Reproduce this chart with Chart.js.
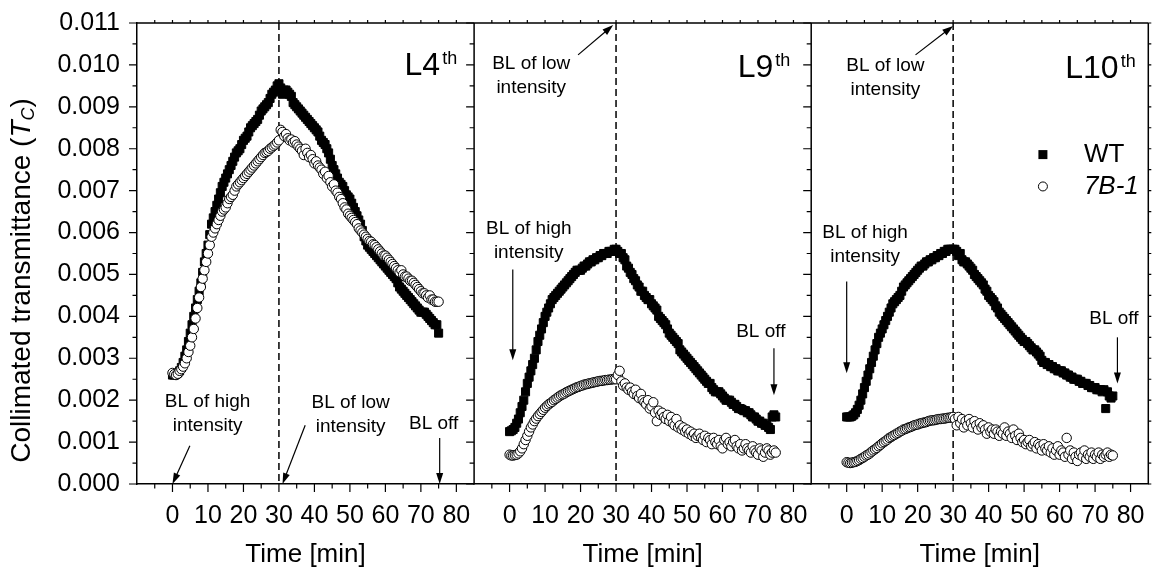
<!DOCTYPE html>
<html>
<head>
<meta charset="utf-8">
<script src="https://cdn.jsdelivr.net/npm/chart.js@4.4.1/dist/chart.umd.min.js"></script>
<style>
  html, body { margin: 0; background: #fff; }
  #wrap { width: 1155px; height: 570px; }
</style>
</head>
<body>
<div id="wrap"><canvas id="chart"></canvas></div>
<script>
// time in minutes, one reading every half minute
const times = [
  0, 0.5, 1, 1.5, 2, 2.5, 3, 3.5, 4, 4.5,
  5, 5.5, 6, 6.5, 7, 7.5, 8, 8.5, 9, 9.5,
  10, 10.5, 11, 11.5, 12, 12.5, 13, 13.5, 14, 14.5,
  15, 15.5, 16, 16.5, 17, 17.5, 18, 18.5, 19, 19.5,
  20, 20.5, 21, 21.5, 22, 22.5, 23, 23.5, 24, 24.5,
  25, 25.5, 26, 26.5, 27, 27.5, 28, 28.5, 29, 29.5,
  30, 30.5, 31, 31.5, 32, 32.5, 33, 33.5, 34, 34.5,
  35, 35.5, 36, 36.5, 37, 37.5, 38, 38.5, 39, 39.5,
  40, 40.5, 41, 41.5, 42, 42.5, 43, 43.5, 44, 44.5,
  45, 45.5, 46, 46.5, 47, 47.5, 48, 48.5, 49, 49.5,
  50, 50.5, 51, 51.5, 52, 52.5, 53, 53.5, 54, 54.5,
  55, 55.5, 56, 56.5, 57, 57.5, 58, 58.5, 59, 59.5,
  60, 60.5, 61, 61.5, 62, 62.5, 63, 63.5, 64, 64.5,
  65, 65.5, 66, 66.5, 67, 67.5, 68, 68.5, 69, 69.5,
  70, 70.5, 71, 71.5, 72, 72.5, 73, 73.5, 74, 74.5,
  75
];

// L4th leaf
const wtL4 = [
  0.00260, 0.00260, 0.00262, 0.00265, 0.00270, 0.00278, 0.00290, 0.00305, 0.00320, 0.00340,
  0.00360, 0.00380, 0.00400, 0.00420, 0.00440, 0.00460, 0.00480, 0.00505, 0.00530, 0.00550,
  0.00570, 0.00595, 0.00620, 0.00635, 0.00650, 0.00665, 0.00680, 0.00695, 0.00710, 0.00720,
  0.00730, 0.00740, 0.00750, 0.00760, 0.00770, 0.00780, 0.00790, 0.00795, 0.00800, 0.00810,
  0.00820, 0.00825, 0.00830, 0.00840, 0.00850, 0.00855, 0.00860, 0.00865, 0.00870, 0.00880,
  0.00890, 0.00895, 0.00900, 0.00905, 0.00910, 0.00920, 0.00930, 0.00935, 0.00940, 0.00950,
  0.00955, 0.00945, 0.00930, 0.00940, 0.00940, 0.00935, 0.00930, 0.00925, 0.00910, 0.00905,
  0.00900, 0.00895, 0.00890, 0.00885, 0.00880, 0.00875, 0.00870, 0.00865, 0.00860, 0.00855,
  0.00850, 0.00845, 0.00840, 0.00830, 0.00820, 0.00815, 0.00810, 0.00800, 0.00790, 0.00775,
  0.00760, 0.00750, 0.00740, 0.00730, 0.00720, 0.00715, 0.00710, 0.00700, 0.00690, 0.00685,
  0.00680, 0.00670, 0.00660, 0.00650, 0.00640, 0.00630, 0.00620, 0.00605, 0.00590, 0.00580,
  0.00570, 0.00565, 0.00560, 0.00555, 0.00550, 0.00545, 0.00540, 0.00535, 0.00530, 0.00525,
  0.00520, 0.00515, 0.00510, 0.00505, 0.00500, 0.00495, 0.00490, 0.00480, 0.00470, 0.00465,
  0.00460, 0.00455, 0.00450, 0.00445, 0.00440, 0.00435, 0.00430, 0.00425, 0.00420, 0.00415,
  0.00410, 0.00410, 0.00410, 0.00405, 0.00400, 0.00395, 0.00390, 0.00385, 0.00380, 0.00380,
  0.00360
];
const b71L4 = [
  0.00265, 0.00262, 0.00260, 0.00263, 0.00270, 0.00274, 0.00280, 0.00288, 0.00300, 0.00315,
  0.00330, 0.00350, 0.00370, 0.00395, 0.00420, 0.00445, 0.00470, 0.00490, 0.00510, 0.00530,
  0.00550, 0.00570, 0.00590, 0.00600, 0.00610, 0.00620, 0.00630, 0.00640, 0.00650, 0.00655,
  0.00660, 0.00670, 0.00680, 0.00685, 0.00690, 0.00700, 0.00710, 0.00715, 0.00720, 0.00725,
  0.00730, 0.00735, 0.00740, 0.00745, 0.00750, 0.00755, 0.00760, 0.00765, 0.00770, 0.00775,
  0.00780, 0.00785, 0.00790, 0.00792, 0.00795, 0.00800, 0.00803, 0.00807, 0.00810, 0.00815,
  0.00820, 0.00845, 0.00840, 0.00830, 0.00835, 0.00825, 0.00820, 0.00822, 0.00815, 0.00818,
  0.00810, 0.00805, 0.00800, 0.00795, 0.00785, 0.00800, 0.00790, 0.00780, 0.00785, 0.00775,
  0.00765, 0.00770, 0.00760, 0.00755, 0.00750, 0.00740, 0.00745, 0.00730, 0.00735, 0.00720,
  0.00710, 0.00715, 0.00700, 0.00695, 0.00685, 0.00680, 0.00670, 0.00660, 0.00655, 0.00645,
  0.00640, 0.00635, 0.00630, 0.00625, 0.00620, 0.00610, 0.00605, 0.00600, 0.00595, 0.00590,
  0.00585, 0.00580, 0.00578, 0.00572, 0.00570, 0.00565, 0.00560, 0.00555, 0.00550, 0.00545,
  0.00545, 0.00540, 0.00535, 0.00530, 0.00525, 0.00520, 0.00515, 0.00510, 0.00505, 0.00510,
  0.00500, 0.00495, 0.00495, 0.00490, 0.00485, 0.00485, 0.00480, 0.00475, 0.00470, 0.00465,
  0.00460, 0.00455, 0.00455, 0.00450, 0.00445, 0.00450, 0.00440, 0.00440, 0.00435, 0.00435,
  0.00435
];

// L9th leaf
const wtL9 = [
  0.00125, 0.00127, 0.00130, 0.00135, 0.00145, 0.00155, 0.00170, 0.00185, 0.00200, 0.00220,
  0.00240, 0.00255, 0.00270, 0.00285, 0.00300, 0.00320, 0.00340, 0.00355, 0.00370, 0.00385,
  0.00400, 0.00410, 0.00420, 0.00430, 0.00440, 0.00445, 0.00450, 0.00455, 0.00460, 0.00465,
  0.00470, 0.00475, 0.00480, 0.00485, 0.00490, 0.00495, 0.00500, 0.00505, 0.00510, 0.00510,
  0.00510, 0.00515, 0.00520, 0.00520, 0.00525, 0.00530, 0.00530, 0.00535, 0.00535, 0.00540,
  0.00540, 0.00545, 0.00545, 0.00550, 0.00550, 0.00550, 0.00555, 0.00555, 0.00555, 0.00560,
  0.00560, 0.00555, 0.00550, 0.00550, 0.00540, 0.00535, 0.00520, 0.00515, 0.00505, 0.00500,
  0.00490, 0.00485, 0.00475, 0.00470, 0.00460, 0.00460, 0.00450, 0.00445, 0.00440, 0.00440,
  0.00430, 0.00425, 0.00420, 0.00415, 0.00400, 0.00395, 0.00390, 0.00385, 0.00380, 0.00370,
  0.00360, 0.00355, 0.00350, 0.00345, 0.00340, 0.00335, 0.00320, 0.00315, 0.00310, 0.00305,
  0.00300, 0.00295, 0.00290, 0.00285, 0.00280, 0.00275, 0.00270, 0.00265, 0.00260, 0.00255,
  0.00250, 0.00245, 0.00240, 0.00240, 0.00230, 0.00225, 0.00220, 0.00220, 0.00220, 0.00215,
  0.00210, 0.00205, 0.00200, 0.00200, 0.00200, 0.00195, 0.00190, 0.00190, 0.00185, 0.00180,
  0.00180, 0.00178, 0.00175, 0.00175, 0.00170, 0.00170, 0.00165, 0.00160, 0.00160, 0.00155,
  0.00150, 0.00150, 0.00145, 0.00145, 0.00140, 0.00140, 0.00135, 0.00130, 0.00160, 0.00165,
  0.00160
];
const b71L9 = [
  0.00070, 0.00068, 0.00068, 0.00069, 0.00070, 0.00073, 0.00078, 0.00085, 0.00095, 0.00105,
  0.00115, 0.00125, 0.00135, 0.00142, 0.00150, 0.00156, 0.00162, 0.00167, 0.00172, 0.00177,
  0.00182, 0.00186, 0.00190, 0.00193, 0.00196, 0.00200, 0.00203, 0.00206, 0.00209, 0.00212,
  0.00214, 0.00216, 0.00219, 0.00221, 0.00223, 0.00225, 0.00227, 0.00229, 0.00231, 0.00232,
  0.00234, 0.00235, 0.00237, 0.00238, 0.00239, 0.00240, 0.00241, 0.00242, 0.00243, 0.00244,
  0.00245, 0.00246, 0.00246, 0.00247, 0.00248, 0.00248, 0.00249, 0.00249, 0.00250, 0.00250,
  0.00250, 0.00260, 0.00270, 0.00245, 0.00235, 0.00240, 0.00230, 0.00225, 0.00230, 0.00220,
  0.00215, 0.00225, 0.00210, 0.00205, 0.00215, 0.00200, 0.00195, 0.00190, 0.00200, 0.00180,
  0.00185, 0.00195, 0.00170, 0.00150, 0.00175, 0.00165, 0.00170, 0.00160, 0.00155, 0.00165,
  0.00150, 0.00160, 0.00145, 0.00140, 0.00155, 0.00135, 0.00140, 0.00130, 0.00135, 0.00125,
  0.00130, 0.00120, 0.00125, 0.00115, 0.00120, 0.00110, 0.00115, 0.00120, 0.00110, 0.00105,
  0.00115, 0.00100, 0.00110, 0.00105, 0.00095, 0.00110, 0.00100, 0.00095, 0.00105, 0.00090,
  0.00085, 0.00105, 0.00110, 0.00095, 0.00100, 0.00090, 0.00100, 0.00105, 0.00090, 0.00085,
  0.00095, 0.00080, 0.00085, 0.00095, 0.00085, 0.00080, 0.00075, 0.00090, 0.00080, 0.00075,
  0.00070, 0.00085, 0.00080, 0.00065, 0.00075, 0.00085, 0.00080, 0.00070, 0.00075, 0.00080,
  0.00075
];

// L10th leaf
const wtL10 = [
  0.00160, 0.00160, 0.00160, 0.00162, 0.00165, 0.00170, 0.00178, 0.00188, 0.00200, 0.00215,
  0.00230, 0.00245, 0.00260, 0.00275, 0.00290, 0.00305, 0.00320, 0.00335, 0.00350, 0.00360,
  0.00370, 0.00380, 0.00390, 0.00400, 0.00410, 0.00420, 0.00430, 0.00435, 0.00440, 0.00445,
  0.00450, 0.00460, 0.00470, 0.00475, 0.00480, 0.00485, 0.00490, 0.00495, 0.00500, 0.00505,
  0.00510, 0.00515, 0.00520, 0.00520, 0.00525, 0.00530, 0.00530, 0.00535, 0.00535, 0.00540,
  0.00540, 0.00545, 0.00545, 0.00550, 0.00550, 0.00555, 0.00555, 0.00560, 0.00560, 0.00560,
  0.00560, 0.00560, 0.00555, 0.00545, 0.00550, 0.00535, 0.00530, 0.00530, 0.00525, 0.00520,
  0.00515, 0.00510, 0.00500, 0.00495, 0.00490, 0.00485, 0.00480, 0.00475, 0.00465, 0.00460,
  0.00450, 0.00445, 0.00440, 0.00435, 0.00425, 0.00420, 0.00410, 0.00405, 0.00400, 0.00395,
  0.00390, 0.00385, 0.00380, 0.00375, 0.00370, 0.00365, 0.00360, 0.00355, 0.00350, 0.00345,
  0.00340, 0.00340, 0.00335, 0.00330, 0.00325, 0.00320, 0.00320, 0.00315, 0.00310, 0.00305,
  0.00295, 0.00290, 0.00290, 0.00285, 0.00285, 0.00280, 0.00280, 0.00275, 0.00275, 0.00270,
  0.00270, 0.00270, 0.00265, 0.00265, 0.00260, 0.00260, 0.00255, 0.00255, 0.00250, 0.00250,
  0.00250, 0.00245, 0.00245, 0.00240, 0.00240, 0.00240, 0.00235, 0.00235, 0.00230, 0.00230,
  0.00230, 0.00225, 0.00225, 0.00225, 0.00220, 0.00225, 0.00180, 0.00220, 0.00210, 0.00205,
  0.00210
];
const b71L10 = [
  0.00052, 0.00051, 0.00050, 0.00051, 0.00052, 0.00053, 0.00055, 0.00057, 0.00060, 0.00062,
  0.00065, 0.00068, 0.00070, 0.00073, 0.00077, 0.00080, 0.00083, 0.00086, 0.00090, 0.00093,
  0.00097, 0.00100, 0.00103, 0.00106, 0.00110, 0.00112, 0.00115, 0.00117, 0.00120, 0.00122,
  0.00125, 0.00127, 0.00130, 0.00131, 0.00133, 0.00135, 0.00136, 0.00138, 0.00140, 0.00141,
  0.00142, 0.00144, 0.00145, 0.00146, 0.00147, 0.00148, 0.00150, 0.00151, 0.00152, 0.00152,
  0.00153, 0.00154, 0.00155, 0.00155, 0.00156, 0.00156, 0.00157, 0.00158, 0.00158, 0.00159,
  0.00160, 0.00155, 0.00140, 0.00160, 0.00145, 0.00155, 0.00135, 0.00150, 0.00140, 0.00155,
  0.00145, 0.00135, 0.00150, 0.00140, 0.00130, 0.00145, 0.00135, 0.00140, 0.00130, 0.00120,
  0.00135, 0.00125, 0.00130, 0.00120, 0.00130, 0.00125, 0.00115, 0.00125, 0.00120, 0.00135,
  0.00115, 0.00125, 0.00120, 0.00110, 0.00130, 0.00115, 0.00105, 0.00120, 0.00110, 0.00100,
  0.00105, 0.00095, 0.00100, 0.00105, 0.00090, 0.00095, 0.00100, 0.00085, 0.00095, 0.00090,
  0.00080, 0.00095, 0.00085, 0.00080, 0.00090, 0.00075, 0.00085, 0.00070, 0.00080, 0.00090,
  0.00070, 0.00080, 0.00075, 0.00065, 0.00110, 0.00070, 0.00080, 0.00060, 0.00075, 0.00065,
  0.00055, 0.00070, 0.00075, 0.00065, 0.00080, 0.00060, 0.00070, 0.00065, 0.00075, 0.00060,
  0.00070, 0.00065, 0.00075, 0.00060, 0.00070, 0.00065, 0.00070, 0.00075, 0.00065, 0.00070,
  0.00068
];

const panelNames = ['L4', 'L9', 'L10'];
const xTickLabels = [0, 10, 20, 30, 40, 50, 60, 70, 80];
const yTickLabels = ['0.000', '0.001', '0.002', '0.003', '0.004', '0.005',
  '0.006', '0.007', '0.008', '0.009', '0.010', '0.011'];
const switchTime = 30; // high -> low intensity

const FONT = '"Liberation Sans", Arial, Helvetica, sans-serif';
const panelAxes = ['x1', 'x2', 'x3'];
const wtSeries = [wtL4, wtL9, wtL10];
const mutSeries = [b71L4, b71L9, b71L10];

// annotation placement, in each panel's own (time, value) coordinates
const notes = [
  { p: 0, lines: ['BL of high', 'intensity'], at: [9.9, 0.00196], from: [4.9, 0.00091], to: [0, 0] },
  { p: 0, lines: ['BL of low', 'intensity'], at: [50.2, 0.00193], from: [37.4, 0.0014], to: [31, 0] },
  { p: 0, lines: ['BL off'], at: [73.6, 0.00143], from: [75.3, 0.00110], to: [75.3, 0] },
  { p: 1, lines: ['BL of low', 'intensity'], at: [6.1, 0.01002], from: [19.3, 0.01024], to: [29.2, 0.01095] },
  { p: 1, lines: ['BL of high', 'intensity'], at: [5.4, 0.0061], from: [0.9, 0.00512], to: [0.9, 0.00295] },
  { p: 1, lines: ['BL off'], at: [70.8, 0.00363], from: [74.5, 0.00324], to: [74.5, 0.00212] },
  { p: 2, lines: ['BL of low', 'intensity'], at: [10.9, 0.00998], from: [19.4, 0.01024], to: [30, 0.01093] },
  { p: 2, lines: ['BL of high', 'intensity'], at: [5.2, 0.0060], from: [0, 0.00483], to: [0, 0.00264] },
  { p: 2, lines: ['BL off'], at: [75.3, 0.00395], from: [76.3, 0.0035], to: [76.3, 0.0024] }
];
const labelPos = [[65.4, 0.00976], [64.3, 0.00972], [61.6, 0.00968]];

function drawParts(ctx, parts, x, y, align) {
  let total = 0;
  parts.forEach(pt => { ctx.font = pt.font; pt.w = ctx.measureText(pt.text).width; total += pt.w + (pt.gap || 0); });
  let cx = align === 'center' ? x - total / 2 : x;
  ctx.textAlign = 'left';
  parts.forEach(pt => {
    ctx.font = pt.font;
    ctx.fillText(pt.text, cx, y + (pt.dy || 0));
    cx += pt.w + (pt.gap || 0);
  });
}

function arrow(ctx, x1, y1, x2, y2) {
  const ang = Math.atan2(y2 - y1, x2 - x1);
  const len = 11, half = 3.5;
  ctx.beginPath();
  ctx.moveTo(x1, y1);
  ctx.lineTo(x2 - Math.cos(ang) * len * 0.8, y2 - Math.sin(ang) * len * 0.8);
  ctx.stroke();
  ctx.beginPath();
  ctx.moveTo(x2, y2);
  ctx.lineTo(x2 - Math.cos(ang) * len - Math.sin(ang) * half, y2 - Math.sin(ang) * len + Math.cos(ang) * half);
  ctx.lineTo(x2 - Math.cos(ang) * len + Math.sin(ang) * half, y2 - Math.sin(ang) * len - Math.cos(ang) * half);
  ctx.closePath();
  ctx.fill();
}

const panelDecor = {
  id: 'panelDecor',
  beforeDatasetsDraw(chart) {
    const { ctx, chartArea: a } = chart;
    ctx.save();
    ctx.strokeStyle = '#000';
    ctx.lineWidth = 1.5;
    ctx.setLineDash([7, 4]);
    panelAxes.forEach(id => {
      const px = chart.scales[id].getPixelForValue(switchTime);
      ctx.beginPath();
      ctx.moveTo(px, a.top);
      ctx.lineTo(px, a.bottom);
      ctx.stroke();
    });
    ctx.restore();
  },
  afterDraw(chart) {
    const { ctx, chartArea: a } = chart;
    const ys = chart.scales.y;
    ctx.save();
    ctx.strokeStyle = '#000';
    ctx.fillStyle = '#000';

    // frame: top, right and the panel separators
    ctx.lineWidth = 1.5;
    ctx.beginPath();
    ctx.moveTo(a.left, a.top); ctx.lineTo(a.right, a.top);
    ctx.moveTo(a.right, a.top); ctx.lineTo(a.right, a.bottom);
    ['x2', 'x3'].forEach(id => {
      const l = chart.scales[id].left;
      ctx.moveTo(l, a.top); ctx.lineTo(l, a.bottom);
    });
    ctx.stroke();

    // tick marks
    ctx.lineWidth = 1.2;
    ctx.beginPath();
    panelAxes.forEach(id => {
      const xs = chart.scales[id];
      for (let v = -5; v <= 80; v += 5) {
        const px = xs.getPixelForValue(v);
        const len = v % 10 === 0 ? 8 : 4.5;
        ctx.moveTo(px, a.bottom); ctx.lineTo(px, a.bottom + len);
        ctx.moveTo(px, a.top); ctx.lineTo(px, a.top - 3);
      }
      for (let k = 0; k <= 22; k++) {
        const py = ys.getPixelForValue(k * 0.0005);
        const len = k % 2 === 0 ? 8 : 4.5;
        ctx.moveTo(xs.left, py); ctx.lineTo(xs.left - len, py);
      }
    });
    for (let k = 0; k <= 22; k++) {
      const py = ys.getPixelForValue(k * 0.0005);
      ctx.moveTo(a.right, py); ctx.lineTo(a.right + 3, py);
    }
    ctx.stroke();

    // annotations with arrows
    ctx.lineWidth = 1.2;
    ctx.textBaseline = 'middle';
    notes.forEach(n => {
      const xs = chart.scales[panelAxes[n.p]];
      const tx = xs.getPixelForValue(n.at[0]);
      const ty = ys.getPixelForValue(n.at[1]);
      ctx.font = '19px ' + FONT;
      ctx.textAlign = 'center';
      n.lines.forEach((s, i) => ctx.fillText(s, tx, ty + i * 24));
      arrow(ctx, xs.getPixelForValue(n.from[0]), ys.getPixelForValue(n.from[1]),
        xs.getPixelForValue(n.to[0]), ys.getPixelForValue(n.to[1]));
    });

    // panel names
    ctx.textBaseline = 'alphabetic';
    panelNames.forEach((name, p) => {
      const xs = chart.scales[panelAxes[p]];
      drawParts(ctx, [
        { text: name, font: '32px ' + FONT, gap: 2 },
        { text: 'th', font: '18px ' + FONT, dy: -11 }
      ], xs.getPixelForValue(labelPos[p][0]), ys.getPixelForValue(labelPos[p][1]), 'left');
    });

    // legend in the last panel
    const lx = chart.scales.x3.getPixelForValue(55.3);
    const ly1 = ys.getPixelForValue(0.00786), ly2 = ys.getPixelForValue(0.0071);
    ctx.fillRect(lx - 4.5, ly1 - 4.5, 9, 9);
    ctx.beginPath();
    ctx.arc(lx, ly2, 4.5, 0, Math.PI * 2);
    ctx.fillStyle = '#fff'; ctx.fill();
    ctx.lineWidth = 1; ctx.stroke();
    ctx.fillStyle = '#000';
    ctx.textBaseline = 'middle';
    ctx.textAlign = 'left';
    ctx.font = '26px ' + FONT;
    ctx.fillText('WT', lx + 41, ly1);
    ctx.font = 'italic 26px ' + FONT;
    ctx.fillText('7B-1', lx + 41, ly2);

    // y axis title with italic T and subscript C
    ctx.save();
    ctx.translate(22, (a.top + a.bottom) / 2 + 27);
    ctx.rotate(-Math.PI / 2);
    ctx.textBaseline = 'middle';
    drawParts(ctx, [
      { text: 'Collimated transmittance (', font: '28px ' + FONT },
      { text: 'T', font: 'italic 28px ' + FONT },
      { text: 'C', font: 'italic 18px ' + FONT, dy: 7 },
      { text: ')', font: '28px ' + FONT }
    ], 0, 0, 'center');
    ctx.restore();

    ctx.restore();
  }
};

// ticks are drawn by the plugin; the invisible library ticks only reserve the gap
function xScale() {
  return {
    type: 'linear',
    axis: 'x',
    position: 'bottom',
    stack: 'panels',
    stackWeight: 1,
    min: -10,
    max: 85,
    afterFit: s => { s.height = 86; },
    grid: { display: true, drawOnChartArea: false, drawTicks: true, tickLength: 17, tickColor: 'rgba(0,0,0,0)' },
    border: { display: true, color: '#000', width: 1.5 },
    ticks: {
      stepSize: 10,
      includeBounds: false,
      autoSkip: false,
      maxRotation: 0,
      padding: 0,
      color: '#000',
      font: { family: FONT, size: 25 },
      callback: v => (xTickLabels.includes(v) ? String(v) : '')
    },
    title: {
      display: true,
      text: 'Time [min]',
      color: '#000',
      font: { family: FONT, size: 26 },
      padding: { top: 0, bottom: 0 }
    }
  };
}

const datasets = panelAxes.flatMap((id, p) => [
  {
    label: '7B-1',
    xAxisID: id,
    yAxisID: 'y',
    order: 0,
    showLine: false,
    data: times.map((t, i) => ({ x: t, y: mutSeries[p][i] })),
    pointStyle: 'circle',
    pointRadius: 4.7,
    pointBackgroundColor: '#fff',
    pointBorderColor: '#000',
    pointBorderWidth: 1
  },
  {
    label: 'WT',
    xAxisID: id,
    yAxisID: 'y',
    order: 1,
    showLine: false,
    data: times.map((t, i) => ({ x: t, y: wtSeries[p][i] })),
    pointStyle: 'rect',
    pointRadius: 5.7,
    pointBackgroundColor: '#000',
    pointBorderColor: '#000',
    pointBorderWidth: 1
  }
]);

new Chart(document.getElementById('chart'), {
  type: 'scatter',
  data: { datasets },
  options: {
    responsive: true,
    maintainAspectRatio: false,
    animation: false,
    layout: { padding: { top: 23, right: 3, left: 0, bottom: 0 } },
    plugins: { legend: { display: false }, tooltip: { enabled: false } },
    scales: {
      x1: xScale(),
      x2: xScale(),
      x3: xScale(),
      y: {
        type: 'linear',
        position: 'left',
        min: 0,
        max: 0.011,
        afterFit: s => { s.width = 137; },
        grid: { display: true, drawOnChartArea: false, drawTicks: true, tickLength: 17, tickColor: 'rgba(0,0,0,0)' },
        border: { display: true, color: '#000', width: 1.5 },
        ticks: {
          stepSize: 0.001,
          padding: 0,
          color: '#000',
          font: { family: FONT, size: 25 },
          callback: (v, i) => yTickLabels[i] ?? ''
        }
      }
    }
  },
  plugins: [panelDecor]
});
</script>
</body>
</html>
